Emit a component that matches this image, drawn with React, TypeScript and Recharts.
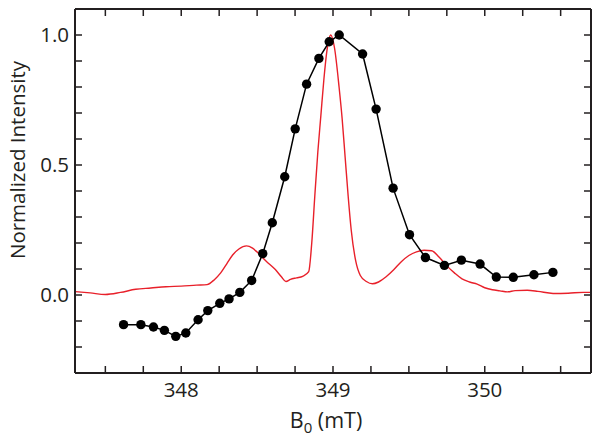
import { LineChart, Line, XAxis, YAxis } from 'recharts';

// B0 field (mT) and normalized intensity of the dotted series
const dotField = [
  347.62, 347.734, 347.817, 347.889, 347.964, 348.03, 348.111, 348.175, 348.254, 348.315,
  348.386, 348.464, 348.537, 348.6, 348.682, 348.751, 348.826, 348.907, 348.975, 349.041,
  349.195, 349.284, 349.396, 349.504, 349.609, 349.734, 349.846, 349.969, 350.076, 350.188,
  350.324, 350.449,
];
const dotIntensity = [
  -0.114, -0.114, -0.123, -0.136, -0.159, -0.146, -0.095, -0.06, -0.032, -0.015,
  0.01, 0.056, 0.159, 0.278, 0.455, 0.639, 0.811, 0.91, 0.974, 1.0,
  0.927, 0.715, 0.411, 0.232, 0.144, 0.114, 0.134, 0.119, 0.069, 0.068,
  0.078, 0.087,
];

// continuous red trace
const traceField = [
  347.3, 347.4, 347.5, 347.6, 347.7, 347.8, 347.9, 348.0, 348.1, 348.17,
  348.22, 348.26, 348.3, 348.34, 348.38, 348.43, 348.47, 348.5, 348.56, 348.62,
  348.66, 348.69, 348.72, 348.76, 348.8, 348.84, 348.86, 348.88, 348.9, 348.92,
  348.94, 348.96, 348.985, 349.01, 349.04, 349.06, 349.08, 349.1, 349.12, 349.15,
  349.18, 349.22, 349.26, 349.3, 349.35, 349.4, 349.45, 349.5, 349.55, 349.6,
  349.65, 349.7, 349.75, 349.8, 349.85, 349.9, 349.95, 350.0, 350.05, 350.1,
  350.15, 350.2, 350.28, 350.35, 350.45, 350.55, 350.65, 350.7,
];
const traceIntensity = [
  0.013, 0.008, 0.002, 0.01, 0.022, 0.027, 0.032, 0.034, 0.038, 0.04,
  0.06, 0.085, 0.12, 0.155, 0.177, 0.189, 0.18, 0.165, 0.13, 0.098,
  0.07, 0.052, 0.06, 0.066, 0.072, 0.09, 0.2, 0.38, 0.55, 0.69,
  0.83, 0.94, 1.0, 0.95, 0.8, 0.68, 0.53, 0.38, 0.25, 0.13,
  0.075, 0.052, 0.043, 0.05, 0.07, 0.097, 0.128, 0.152, 0.166, 0.172,
  0.17, 0.145, 0.112, 0.085, 0.062, 0.05, 0.042, 0.028, 0.02, 0.016,
  0.012, 0.017, 0.018, 0.014, 0.006, 0.007, 0.01, 0.01,
];

const fieldTicks = [
  347.5, 347.75, 348, 348.25, 348.5, 348.75, 349, 349.25, 349.5, 349.75, 350, 350.25, 350.5,
];
const fieldLabels = [348, 349, 350];
const intensityTicks = [-0.2, -0.1, 0, 0.1, 0.2, 0.3, 0.4, 0.5, 0.6, 0.7, 0.8, 0.9, 1.0];
const intensityLabels = [0, 0.5, 1.0];

const dotRows = dotField.map((x, i) => ({ x, y: dotIntensity[i] }));
const traceRows = traceField.map((x, i) => ({ x, y: traceIntensity[i] }));

const W = 602;
const H = 445;
const LEFT = 75;
const RIGHT = 591;
const TOP = 9;
const BOTTOM = 373;
const TICK = 7;
const INK = '#231f20';
const FONT = '"Open Sans", "Noto Sans", sans-serif';
const FS = 20.5;

const isIn = (list: number[], v: number) => list.some((m) => Math.abs(m - v) < 1e-6);

function BottomTick(props: any) {
  const { x, payload } = props;
  return (
    <g>
      <line x1={x} x2={x} y1={BOTTOM} y2={BOTTOM - TICK} stroke={INK} strokeWidth={1.5} />
      {isIn(fieldLabels, payload.value) && (
        <text x={x} y={BOTTOM + 24} textAnchor="middle" fontSize={FS} fill={INK} fontFamily={FONT}>
          {payload.value}
        </text>
      )}
    </g>
  );
}

function TopTick(props: any) {
  const { x } = props;
  return <line x1={x} x2={x} y1={TOP} y2={TOP + TICK} stroke={INK} strokeWidth={1.5} />;
}

function LeftTick(props: any) {
  const { y, payload } = props;
  return (
    <g>
      <line x1={LEFT} x2={LEFT + TICK} y1={y} y2={y} stroke={INK} strokeWidth={1.5} />
      {isIn(intensityLabels, payload.value) && (
        <text x={LEFT - 6} y={y} dy="0.36em" textAnchor="end" fontSize={FS} fill={INK} fontFamily={FONT}>
          {Number(payload.value).toFixed(1)}
        </text>
      )}
    </g>
  );
}

function RightTick(props: any) {
  const { y } = props;
  return <line x1={RIGHT} x2={RIGHT - TICK} y1={y} y2={y} stroke={INK} strokeWidth={1.5} />;
}

export default function App() {
  const axisLine = { stroke: INK, strokeWidth: 2 };
  return (
    <div style={{ position: 'absolute', left: 0, top: 0, width: W, height: H, background: '#fff' }}>
      <LineChart
        width={W}
        height={H}
        margin={{ top: TOP - 1, right: W - RIGHT - 1, bottom: H - BOTTOM - 1, left: LEFT - 1 }}
      >
        <XAxis
          xAxisId="b"
          type="number"
          dataKey="x"
          domain={[347.3, 350.7]}
          allowDataOverflow
          ticks={fieldTicks}
          interval={0}
          height={1}
          axisLine={axisLine}
          tickLine={false}
          tick={<BottomTick />}
        />
        <XAxis
          xAxisId="t"
          orientation="top"
          type="number"
          dataKey="x"
          domain={[347.3, 350.7]}
          allowDataOverflow
          ticks={fieldTicks}
          interval={0}
          height={1}
          axisLine={axisLine}
          tickLine={false}
          tick={<TopTick />}
        />
        <YAxis
          yAxisId="l"
          type="number"
          domain={[-0.3, 1.1]}
          allowDataOverflow
          ticks={intensityTicks}
          interval={0}
          width={1}
          axisLine={axisLine}
          tickLine={false}
          tick={<LeftTick />}
        />
        <YAxis
          yAxisId="r"
          orientation="right"
          type="number"
          domain={[-0.3, 1.1]}
          allowDataOverflow
          ticks={intensityTicks}
          interval={0}
          width={1}
          axisLine={axisLine}
          tickLine={false}
          tick={<RightTick />}
        />
        <Line
          xAxisId="b"
          yAxisId="l"
          data={traceRows}
          dataKey="y"
          type="monotone"
          stroke="#e8202a"
          strokeWidth={1.4}
          dot={false}
          isAnimationActive={false}
        />
        <Line
          xAxisId="b"
          yAxisId="l"
          data={dotRows}
          dataKey="y"
          type="linear"
          stroke="#000"
          strokeWidth={1.5}
          dot={{ r: 4.7, fill: '#000', stroke: '#000', strokeWidth: 0 }}
          isAnimationActive={false}
        />
      </LineChart>
      <svg
        width={W}
        height={H}
        style={{ position: 'absolute', left: 0, top: 0, pointerEvents: 'none' }}
      >
        <text
          transform="translate(25,160) rotate(-90)"
          textAnchor="middle"
          fontSize={FS}
          fill={INK}
          fontFamily={FONT}
        >
          Normalized Intensity
        </text>
        <text x={326} y={428} textAnchor="middle" fontSize={21.5} fill={INK} fontFamily={FONT}>
          B<tspan fontSize={15} dy={5}>0</tspan>
          <tspan dy={-5}>{'\u00a0(mT)'}</tspan>
        </text>
      </svg>
    </div>
  );
}
